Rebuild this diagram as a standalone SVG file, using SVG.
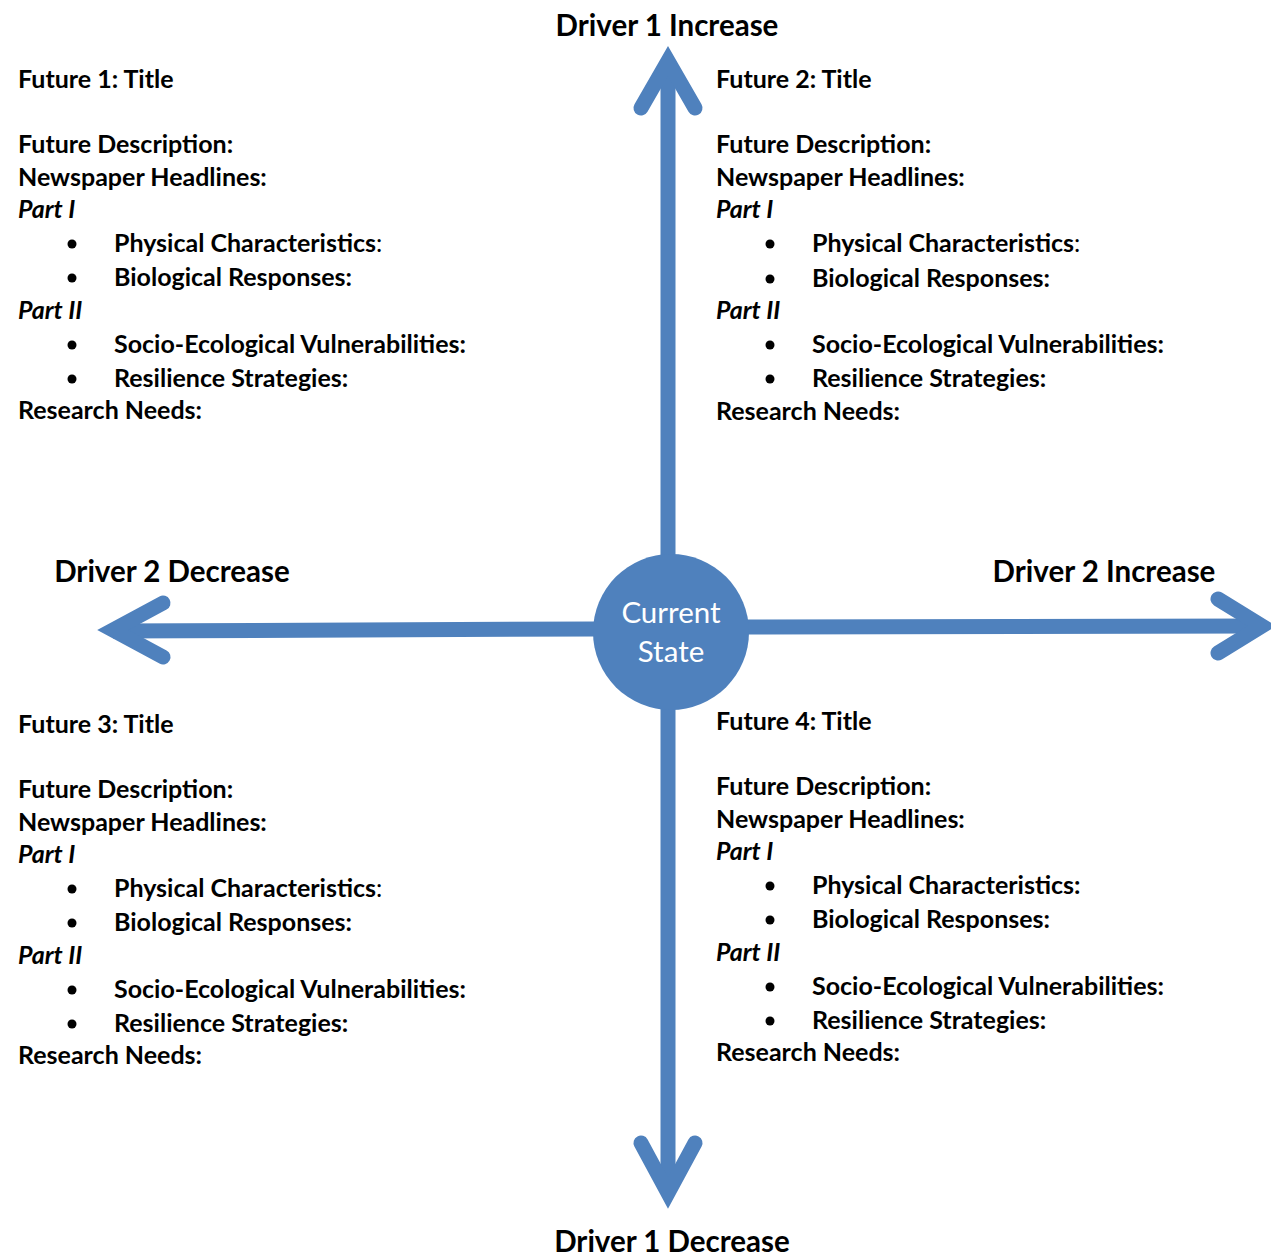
<svg xmlns="http://www.w3.org/2000/svg" width="1271" height="1258" viewBox="0 0 1271 1258">
<style>
.t{font-family:Lato,"Open Sans","Liberation Sans",sans-serif;font-weight:bold;font-size:25px;fill:#000}
.i{font-style:italic}
.n{font-weight:normal}
.drv{font-family:Lato,"Open Sans","Liberation Sans",sans-serif;font-weight:bold;font-size:29.5px;fill:#000;text-anchor:middle}
.cs{font-family:Lato,"Open Sans","Liberation Sans",sans-serif;font-size:29.5px;fill:#fff;text-anchor:middle}
.ax{fill:none;stroke:#4F81BD;stroke-width:15}
.hd{fill:none;stroke:#4F81BD;stroke-width:15;stroke-linecap:round;stroke-linejoin:miter;stroke-miterlimit:6}
.b{fill:#000}
</style>
<rect width="1271" height="1258" fill="#fff"/>
<g id="connectors">
<path class="ax" d="M668,556 L668,61"/>
<path class="hd" d="M641,108 L668,61 L695,108"/>
<path class="ax" d="M668,708 L668,1193"/>
<path class="hd" d="M641,1143 L668,1193 L695,1143"/>
<path class="ax" d="M595,629 L113,631"/>
<path class="hd" d="M163,603 L113,630 L163,657"/>
<path class="ax" d="M747,627 L1262,626"/>
<path class="hd" d="M1218,599 L1262,626 L1218,653"/>
</g>
<g id="current-state">
<circle cx="671" cy="632" r="78" fill="#4F81BD"/>
<text class="cs" x="671" y="623">Current</text>
<text class="cs" x="671" y="662">State</text>
</g>
<g id="driver-labels">
<text class="drv" x="667" y="36">Driver 1 Increase</text>
<text class="drv" x="172" y="582">Driver 2 Decrease</text>
<text class="drv" x="1104" y="582">Driver 2 Increase</text>
<text class="drv" x="672" y="1252">Driver 1 Decrease</text>
</g>
<g id="future1">
<text class="t" x="18" y="88">Future 1: Title</text>
<text class="t" x="18" y="153">Future Description:</text>
<text class="t" x="18" y="186">Newspaper Headlines:</text>
<text class="t i" x="18" y="218">Part I</text>
<circle class="b" cx="72" cy="244" r="4.5"/>
<text class="t" x="114" y="252">Physical Characteristics<tspan class="n">:</tspan></text>
<circle class="b" cx="72" cy="278" r="4.5"/>
<text class="t" x="114" y="286">Biological Responses:</text>
<text class="t i" x="18" y="319">Part II</text>
<circle class="b" cx="72" cy="345" r="4.5"/>
<text class="t" x="114" y="353">Socio-Ecological Vulnerabilities:</text>
<circle class="b" cx="72" cy="379" r="4.5"/>
<text class="t" x="114" y="387">Resilience Strategies:</text>
<text class="t" x="18" y="419">Research Needs:</text>
</g>
<g id="future2">
<text class="t" x="716" y="88">Future 2: Title</text>
<text class="t" x="716" y="153">Future Description:</text>
<text class="t" x="716" y="186">Newspaper Headlines:</text>
<text class="t i" x="716" y="218">Part I</text>
<circle class="b" cx="770" cy="244" r="4.5"/>
<text class="t" x="812" y="252">Physical Characteristics<tspan class="n">:</tspan></text>
<circle class="b" cx="770" cy="279" r="4.5"/>
<text class="t" x="812" y="287">Biological Responses:</text>
<text class="t i" x="716" y="319">Part II</text>
<circle class="b" cx="770" cy="345" r="4.5"/>
<text class="t" x="812" y="353">Socio-Ecological Vulnerabilities:</text>
<circle class="b" cx="770" cy="379" r="4.5"/>
<text class="t" x="812" y="387">Resilience Strategies:</text>
<text class="t" x="716" y="420">Research Needs:</text>
</g>
<g id="future3">
<text class="t" x="18" y="733">Future 3: Title</text>
<text class="t" x="18" y="798">Future Description:</text>
<text class="t" x="18" y="831">Newspaper Headlines:</text>
<text class="t i" x="18" y="863">Part I</text>
<circle class="b" cx="72" cy="889" r="4.5"/>
<text class="t" x="114" y="897">Physical Characteristics<tspan class="n">:</tspan></text>
<circle class="b" cx="72" cy="923" r="4.5"/>
<text class="t" x="114" y="931">Biological Responses:</text>
<text class="t i" x="18" y="964">Part II</text>
<circle class="b" cx="72" cy="990" r="4.5"/>
<text class="t" x="114" y="998">Socio-Ecological Vulnerabilities:</text>
<circle class="b" cx="72" cy="1024" r="4.5"/>
<text class="t" x="114" y="1032">Resilience Strategies:</text>
<text class="t" x="18" y="1064">Research Needs:</text>
</g>
<g id="future4">
<text class="t" x="716" y="730">Future 4: Title</text>
<text class="t" x="716" y="795">Future Description:</text>
<text class="t" x="716" y="828">Newspaper Headlines:</text>
<text class="t i" x="716" y="860">Part I</text>
<circle class="b" cx="770" cy="886" r="4.5"/>
<text class="t" x="812" y="894">Physical Characteristics:</text>
<circle class="b" cx="770" cy="920" r="4.5"/>
<text class="t" x="812" y="928">Biological Responses:</text>
<text class="t i" x="716" y="961">Part II</text>
<circle class="b" cx="770" cy="987" r="4.5"/>
<text class="t" x="812" y="995">Socio-Ecological Vulnerabilities:</text>
<circle class="b" cx="770" cy="1021" r="4.5"/>
<text class="t" x="812" y="1029">Resilience Strategies:</text>
<text class="t" x="716" y="1061">Research Needs:</text>
</g>
</svg>
